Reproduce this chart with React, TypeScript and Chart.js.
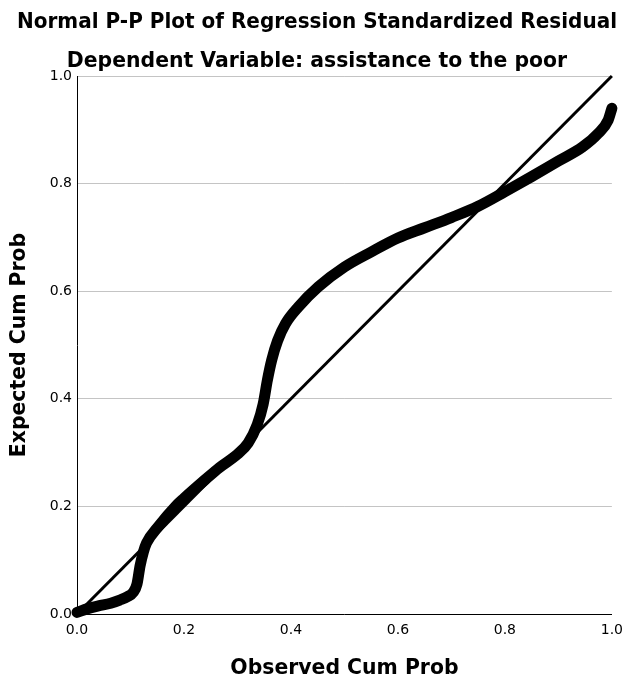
import React, { useEffect, useRef } from "react";
import { Chart, registerables } from "chart.js";

Chart.register(...registerables);

const observedCumProb = [0, 0.02, 0.04, 0.063, 0.08, 0.094, 0.105, 0.112, 0.118, 0.124, 0.13, 0.15, 0.187, 0.2, 0.24, 0.266, 0.3, 0.32, 0.337, 0.348, 0.356, 0.364, 0.375, 0.39, 0.414, 0.451, 0.5, 0.55, 0.6, 0.65, 0.7, 0.75, 0.8, 0.85, 0.9, 0.945, 0.974, 0.993, 1.0];
const expectedCumProb = [0.003, 0.01, 0.015, 0.02, 0.026, 0.032, 0.04, 0.055, 0.09, 0.115, 0.132, 0.16, 0.203, 0.215, 0.25, 0.272, 0.297, 0.318, 0.352, 0.39, 0.435, 0.472, 0.508, 0.54, 0.571, 0.608, 0.645, 0.673, 0.699, 0.718, 0.737, 0.758, 0.785, 0.813, 0.842, 0.868, 0.893, 0.918, 0.94];
const refLineX = [0, 1];
const refLineY = [0, 1];
const tickValues = [0, 0.2, 0.4, 0.6, 0.8, 1.0];

const titleText = "Normal P-P Plot of Regression Standardized Residual";
const subtitleText = "Dependent Variable: assistance to the poor";
const xTitle = "Observed Cum Prob";
const yTitle = "Expected Cum Prob";

const FONT = "'DejaVu Sans', sans-serif";
const BIG = { family: FONT, size: 20.4, weight: "bold" as const, lineHeight: 1.2 };

export default function App() {
  const ref = useRef<HTMLCanvasElement | null>(null);
  useEffect(() => {
    if (!ref.current) return;
    const curve = observedCumProb.map((x, i) => ({ x, y: expectedCumProb[i] }));
    const diag = refLineX.map((x, i) => ({ x, y: refLineY[i] }));
    const chart = new Chart(ref.current, {
      type: "scatter",
      data: {
        datasets: [
          {
            data: diag,
            showLine: true,
            borderColor: "#000",
            borderWidth: 3,
            pointRadius: 0,
            clip: false as any,
          },
          {
            data: curve,
            showLine: true,
            borderColor: "#000",
            borderWidth: 11,
            pointRadius: 0,
            cubicInterpolationMode: "monotone",
            borderCapStyle: "round",
            borderJoinStyle: "round",
            clip: false as any,
          },
        ],
      },
      options: {
        responsive: false,
        animation: false,
        layout: { padding: { left: 17, right: 14, top: 0, bottom: 0 } },
        plugins: {
          legend: { display: false },
          tooltip: { enabled: false },
          title: {
            display: true,
            text: titleText,
            color: "#000",
            font: BIG,
            padding: { top: 10.5, bottom: 14.5 },
          },
          subtitle: {
            display: true,
            text: subtitleText,
            color: "#000",
            font: BIG,
            padding: { top: 0, bottom: 2.1 },
          },
        },
        scales: {
          x: {
            type: "linear",
            min: 0,
            max: 1,
            afterBuildTicks: (s: any) => {
              s.ticks = tickValues.map((v) => ({ value: v }));
            },
            afterFit: (s: any) => {
              s.height = 68;
            },
            grid: { display: false, drawTicks: false },
            border: { display: true, color: "#000", width: 1 },
            ticks: {
              color: "#000",
              padding: 8,
              font: { family: FONT, size: 14 },
              callback: (v: any) => Number(v).toFixed(1),
              maxRotation: 0,
            },
            title: {
              display: true,
              text: xTitle,
              color: "#000",
              font: BIG,
              padding: { top: 0, bottom: 1 },
            },
          },
          y: {
            type: "linear",
            min: 0,
            max: 1,
            afterBuildTicks: (s: any) => {
              s.ticks = tickValues.map((v) => ({ value: v }));
            },
            afterFit: (s: any) => {
              s.width = 60;
            },
            grid: {
              display: true,
              drawTicks: false,
              color: "#c4c4c4",
              lineWidth: 1,
            },
            border: { display: true, color: "#000", width: 1 },
            ticks: {
              color: "#000",
              padding: 5,
              font: { family: FONT, size: 14 },
              callback: (v: any) => Number(v).toFixed(1),
            },
            title: {
              display: true,
              text: yTitle,
              color: "#000",
              font: BIG,
              padding: { top: -10, bottom: 0 },
            },
          },
        },
      },
    });
    return () => chart.destroy();
  }, []);
  return (
    <div style={{ position: "fixed", left: 0, top: 0, width: 631, height: 682, background: "#fff" }}>
      <canvas ref={ref} width={631} height={682} style={{ width: 631, height: 682 }} />
    </div>
  );
}
